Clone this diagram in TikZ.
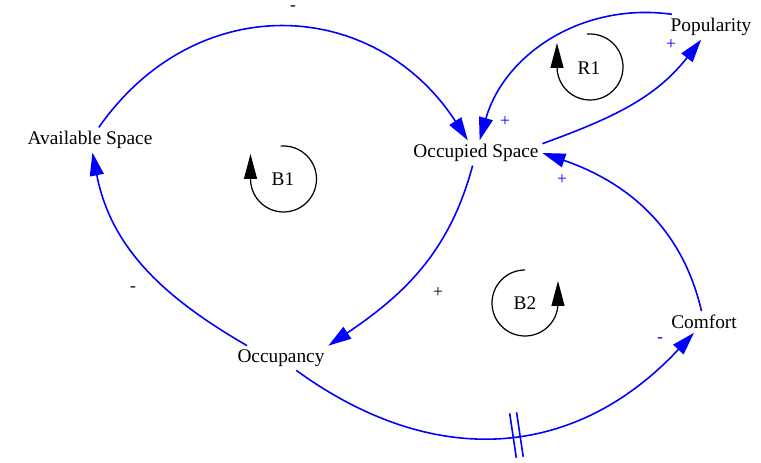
\documentclass[tikz,border=0pt]{standalone}
\usepackage{fontspec}
\setmainfont{Liberation Serif}
\usetikzlibrary{arrows.meta, decorations.markings}
\tikzset{
	varnode/.style={
			inner sep=2pt,
			font=\fontsize{11}{13}\selectfont
		},
	polnode/.style={
			inner sep=0pt,
			font=\fontsize{10}{12}\selectfont
		},
	bluepol/.style={
			polnode,
			text=blue
		},
	link/.style={
			draw=blue,
			line width=0.9pt,
			-{Triangle[length=4.6mm, width=2.8mm]}
		},
	loopmark/.style={
			line width=0.7pt,
			-{Triangle[length=5mm, width=2.6mm]}
		},
	delay/.style={
			postaction={decorate},
			decoration={markings,
					mark=at position 0.53 with {
							\draw[-, blue, line width=0.9pt] (-0.07,-0.45) -- (-0.07,0.45);
							\draw[-, blue, line width=0.9pt] (0.07,-0.45) -- (0.07,0.45);
						}}
		}
}

\begin{document}
\begin{tikzpicture}
\useasboundingbox (0,0) rectangle (15.22,9.24);
\node[varnode] (as) at (1.80,6.44) {Available Space};
\node[varnode] (os) at (9.52,6.18) {Occupied Space};
\node[varnode] (pop) at (14.22,8.70) {Popularity};
\node[varnode] (occ) at (5.62,2.08) {Occupancy};
\node[varnode] (com) at (14.08,2.80) {Comfort};

\node[varnode] (b1) at (5.66,5.66) {B1};
\node[varnode] (r1) at (11.78,7.88) {R1};
\node[varnode] (b2) at (10.50,3.18) {B2};

\node[polnode] (m1) at (5.86,9.08) {-};
\node[polnode] (m2) at (2.66,3.46) {-};
\node[polnode] (p1) at (8.76,3.38) {+};
\node[bluepol] (p2) at (10.10,6.80) {+};
\node[bluepol] (p3) at (13.42,8.34) {+};
\node[bluepol] (p4) at (11.24,5.64) {+};
\node[bluepol] (m3) at (13.20,2.44) {-};

\draw[link] (as) to[out=55, in=123, looseness=1.18] (os);
\draw[link] (os.255) to[out=255, in=34] (occ.north east);
\draw[link] (occ.160) to[out=150, in=-79] (as);
\draw[link] (os.8) to[out=20, in=232] (pop);
\draw[link] (pop.162) to[out=172, in=74] (os);
\draw[link] (com) to[out=103, in=341] (os.east);
\draw[link, delay] (occ.-39) to[out=-36, in=227, looseness=1.1] (com);

\draw[loopmark] (5.67,5.66) ++(95:0.66) arc[start angle=95, end angle=-180, radius=0.66] -- ++(0,0.5);
\draw[loopmark] (11.80,7.90) ++(95:0.66) arc[start angle=95, end angle=-180, radius=0.66] -- ++(0,0.48);
\draw[loopmark] (10.50,3.18) ++(90:0.66) arc[start angle=90, end angle=360, radius=0.66] -- ++(0,0.44);
\end{tikzpicture}
\end{document}
